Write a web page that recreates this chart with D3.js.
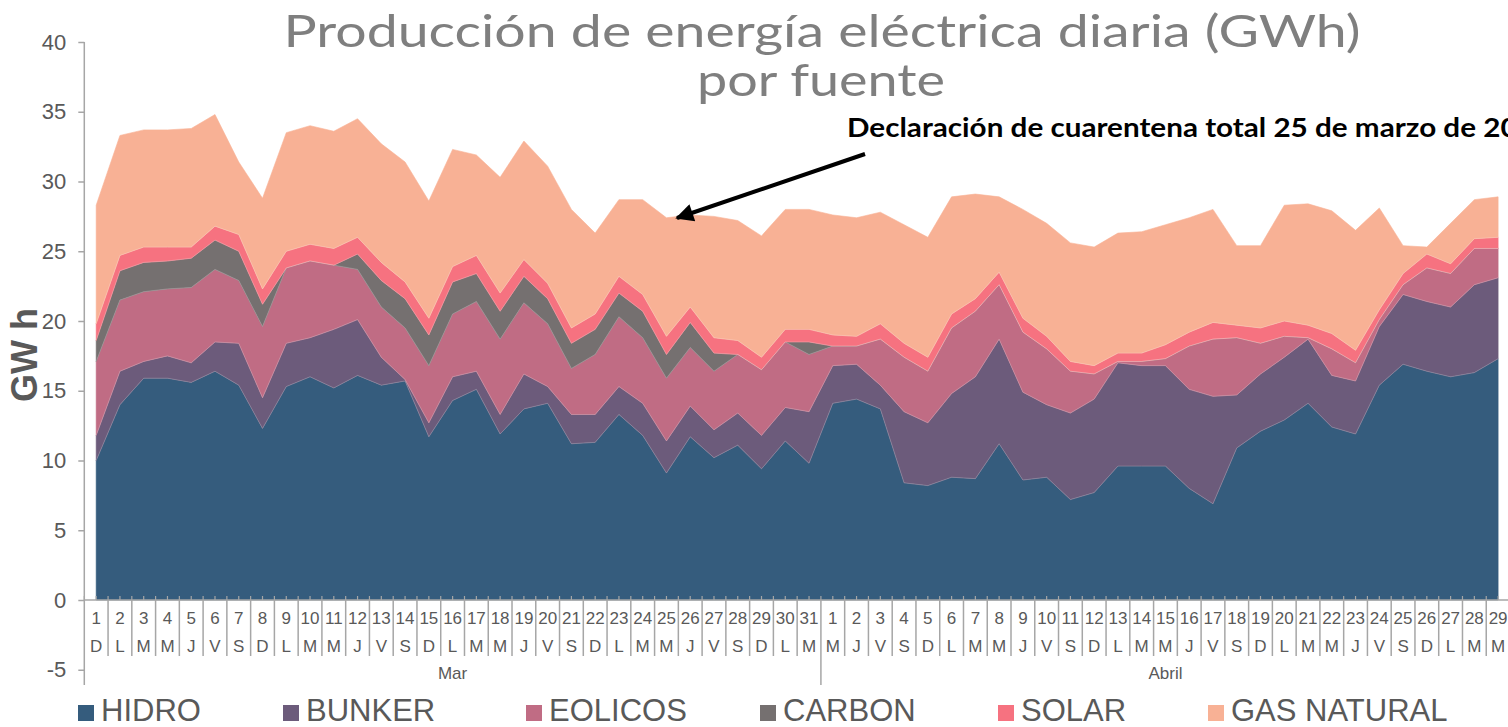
<!DOCTYPE html>
<html>
<head>
<meta charset="utf-8">
<script src="https://cdn.jsdelivr.net/npm/d3@7"></script>
<style>
  html, body { margin: 0; padding: 0; background: #fff; overflow: hidden; }
  svg { display: block; }
</style>
</head>
<body>
<script>
// Category labels
const dayNums = [
  "1","2","3","4","5","6","7","8","9","10","11","12","13","14","15","16","17","18","19","20",
  "21","22","23","24","25","26","27","28","29","30","31",
  "1","2","3","4","5","6","7","8","9","10","11","12","13","14","15","16","17","18","19","20",
  "21","22","23","24","25","26","27","28","29"
];
const weekDays = [
  "D","L","M","M","J","V","S","D","L","M","M","J","V","S","D","L","M","M","J","V",
  "S","D","L","M","M","J","V","S","D","L","M",
  "M","J","V","S","D","L","M","M","J","V","S","D","L","M","M","J","V","S","D","L",
  "M","M","J","V","S","D","L","M","M"
];
const months = [
  { name: "Mar", from: 0, to: 31 },
  { name: "Abril", from: 31, to: 60 }
];

// Series values (GWh)
const hidro = [
  10.0,14.0,15.9,15.9,15.6,16.4,15.4,12.3,15.3,16.0,15.2,16.1,15.4,15.7,11.7,14.3,15.1,11.9,13.7,14.1,
  11.2,11.3,13.3,11.8,9.1,11.7,10.2,11.1,9.4,11.4,9.8,
  14.1,14.4,13.7,8.4,8.2,8.8,8.7,11.2,8.6,8.8,7.2,7.7,9.6,9.6,9.6,8.0,6.9,10.9,12.1,12.9,
  14.1,12.4,11.9,15.4,16.9,16.4,16.0,16.3,17.3
];
const bunker = [
  1.8,2.4,1.2,1.6,1.4,2.1,3.0,2.2,3.1,2.8,4.2,4.0,2.0,0.1,1.0,1.7,1.3,1.4,2.5,1.2,
  2.1,2.0,2.0,2.3,2.3,2.2,2.0,2.3,2.4,2.4,3.7,
  2.7,2.5,1.7,5.1,4.5,6.0,7.3,7.5,6.3,5.2,6.2,6.7,7.4,7.2,7.2,7.1,7.7,3.8,4.1,4.5,
  4.6,3.7,3.8,4.2,5.0,5.0,5.0,6.3,5.8
];
const eolicos = [
  5.3,5.1,5.0,4.8,5.4,5.2,4.5,5.1,5.4,5.5,4.6,3.6,3.6,3.7,4.1,4.5,5.0,5.4,5.1,4.5,
  3.3,4.3,5.0,4.7,4.5,4.2,4.2,4.2,4.7,4.7,4.1,
  1.4,1.3,3.3,3.9,3.7,4.7,4.7,3.9,4.3,4.0,3.0,1.8,0.1,0.3,0.5,3.1,4.1,4.1,2.2,1.5,
  0.1,1.9,1.3,0.5,0.7,2.4,2.4,2.6,2.1
];
const carbon = [
  1.5,2.1,2.1,2.0,2.1,2.1,2.1,1.6,0.0,0.0,0.0,1.1,1.9,2.1,2.2,2.3,2.0,2.0,1.9,1.8,
  1.8,1.8,1.7,1.9,1.7,1.8,1.3,0.0,0.0,0.0,0.9,
  0,0,0,0,0,0,0,0,0,0,0,0,0,0,0,0,0,0,0,0,
  0,0,0,0,0,0,0,0,0
];
const solar = [
  1.2,1.1,1.1,1.0,0.8,1.0,1.2,1.1,1.2,1.2,1.2,1.2,1.3,1.2,1.2,1.1,1.3,1.3,1.2,1.1,
  1.1,1.1,1.2,1.2,1.3,1.1,1.1,1.0,0.9,0.9,0.9,
  0.8,0.7,1.1,1.0,1.0,1.0,0.9,0.9,1.0,0.9,0.7,0.6,0.6,0.6,1.0,1.0,1.2,0.9,1.1,1.1,
  0.9,1.1,0.9,0.7,0.8,1.0,0.7,0.7,0.8
];
const gasNatural = [
  8.5,8.6,8.4,8.4,8.5,8.0,5.2,6.5,8.5,8.5,8.4,8.5,8.5,8.6,8.4,8.4,7.2,8.3,8.5,8.4,
  8.5,5.8,5.5,6.8,8.5,6.6,8.7,8.6,8.7,8.6,8.6,
  8.6,8.5,8.0,8.5,8.6,8.4,7.5,5.4,7.8,8.1,8.5,8.5,8.6,8.7,8.6,8.2,8.1,5.7,5.9,8.3,
  8.7,8.8,8.6,7.3,2.0,0.5,2.9,2.8,2.9
];

const seriesNames = ["HIDRO", "BUNKER", "EOLICOS", "CARBON", "SOLAR", "GAS NATURAL"];
const seriesValues = [hidro, bunker, eolicos, carbon, solar, gasNatural];
const colors = ["#355c7d", "#6c5b7b", "#c06c84", "#757070", "#f67280", "#f8b195"];
const yTicks = [-5, 0, 5, 10, 15, 20, 25, 30, 35, 40];

const width = 1508;
const height = 727;
const plot = { left: 84.3, right: 1510, top: 42, bottom: 669.75 };
const axisGrey = "#a6a6a6";
const textGrey = "#595959";

const svg = d3.select("body")
  .append("svg")
  .attr("width", width)
  .attr("height", height);

// Build rows for the stack
const rows = dayNums.map((d, i) => {
  const r = { i: i };
  seriesNames.forEach((s, k) => { r[s] = seriesValues[k][i]; });
  return r;
});

const x = d3.scaleBand()
  .domain(d3.range(dayNums.length))
  .range([plot.left, plot.right])
  .padding(0);
const cx = (i) => x(i) + x.bandwidth() / 2;

const y = d3.scaleLinear()
  .domain([-5, 40])
  .range([plot.bottom, plot.top]);

const stacked = d3.stack().keys(seriesNames)(rows);

const area = d3.area()
  .x((d) => cx(d.data.i))
  .y0((d) => y(d[0]))
  .y1((d) => y(d[1]));

// Areas
svg.append("g")
  .selectAll("path")
  .data(stacked)
  .enter()
  .append("path")
  .attr("d", area)
  .attr("fill", (d, k) => colors[k])
  .attr("stroke", (d, k) => colors[k])
  .attr("stroke-width", 0.6);

// Faint edge line on top of each layer
svg.append("g")
  .selectAll("path")
  .data(stacked.slice(0, 5))
  .enter()
  .append("path")
  .attr("d", d3.line().x((d) => cx(d.data.i)).y((d) => y(d[1])))
  .attr("fill", "none")
  .attr("stroke", "#ffffff")
  .attr("stroke-opacity", 0.25)
  .attr("stroke-width", 0.8);

// Y axis
const yAxis = d3.axisLeft(y)
  .tickValues(yTicks)
  .tickFormat((d) => String(d))
  .tickSize(6)
  .tickSizeOuter(0)
  .tickPadding(12);

const yG = svg.append("g")
  .attr("transform", `translate(${plot.left},0)`)
  .call(yAxis);
yG.select(".domain").remove();
yG.selectAll(".tick line").attr("stroke", axisGrey).attr("stroke-width", 1.5);
yG.selectAll(".tick text")
  .attr("fill", textGrey)
  .style("font-family", "'Liberation Sans', Arial, sans-serif")
  .style("font-size", "22px");
svg.append("line")
  .attr("x1", plot.left).attr("x2", plot.left)
  .attr("y1", plot.top).attr("y2", 685)
  .attr("stroke", axisGrey).attr("stroke-width", 1.5);

// X axis (category axis crossing at 0)
const y0 = y(0);
const xG = svg.append("g");
xG.append("line")
  .attr("x1", plot.left).attr("x2", plot.right)
  .attr("y1", y0).attr("y2", y0)
  .attr("stroke", axisGrey).attr("stroke-width", 1.5);

// small ticks above the axis at centres and boundaries
const minor = [];
dayNums.forEach((d, i) => { minor.push(x(i)); minor.push(cx(i)); });
xG.selectAll("line.minor")
  .data(minor)
  .enter()
  .append("line")
  .attr("class", "minor")
  .attr("x1", (d) => d).attr("x2", (d) => d)
  .attr("y1", y0 - 4).attr("y2", y0)
  .attr("stroke", axisGrey).attr("stroke-width", 1.2);

// separators between categories
const monthStarts = months.map((m) => m.from);
xG.selectAll("line.sep")
  .data(d3.range(1, dayNums.length + 1))
  .enter()
  .append("line")
  .attr("class", "sep")
  .attr("x1", (i) => x.step() * i + plot.left)
  .attr("x2", (i) => x.step() * i + plot.left)
  .attr("y1", y0)
  .attr("y2", (i) => monthStarts.includes(i) ? 685 : 656)
  .attr("stroke", axisGrey).attr("stroke-width", 1.5);

const labelFont = "'Liberation Sans', Arial, sans-serif";
xG.selectAll("text.day")
  .data(dayNums)
  .enter()
  .append("text")
  .attr("class", "day")
  .attr("x", (d, i) => cx(i))
  .attr("y", 623.5)
  .attr("text-anchor", "middle")
  .attr("fill", textGrey)
  .style("font-family", labelFont)
  .style("font-size", "17px")
  .text((d) => d);

xG.selectAll("text.wd")
  .data(weekDays)
  .enter()
  .append("text")
  .attr("class", "wd")
  .attr("x", (d, i) => cx(i))
  .attr("y", 651.5)
  .attr("text-anchor", "middle")
  .attr("fill", textGrey)
  .style("font-family", labelFont)
  .style("font-size", "17px")
  .text((d) => d);

xG.selectAll("text.month")
  .data(months)
  .enter()
  .append("text")
  .attr("class", "month")
  .attr("x", (m) => (x(m.from) + x.step() * (m.to - m.from) / 2))
  .attr("y", 679)
  .attr("text-anchor", "middle")
  .attr("fill", textGrey)
  .style("font-family", labelFont)
  .style("font-size", "17px")
  .text((m) => m.name);

// Y axis title
svg.append("text")
  .attr("transform", "translate(37,355) rotate(-90)")
  .attr("text-anchor", "middle")
  .attr("fill", textGrey)
  .style("font-family", labelFont)
  .style("font-weight", "bold")
  .style("font-size", "36px")
  .text("GW h");

// Title
const title = svg.append("text")
  .attr("text-anchor", "middle")
  .attr("fill", "#7f7f7f")
  .style("font-family", "Lato, 'DejaVu Sans', sans-serif")
  .style("font-weight", "400")
  .style("font-size", "45px");
title.append("tspan")
  .attr("x", 822).attr("y", 47)
  .attr("textLength", 1077)
  .attr("lengthAdjust", "spacingAndGlyphs")
  .text("Producción de energía eléctrica diaria (GWh)");
title.append("tspan")
  .attr("x", 821).attr("y", 96)
  .attr("textLength", 248)
  .attr("lengthAdjust", "spacingAndGlyphs")
  .text("por fuente");

// Annotation
svg.append("defs")
  .append("marker")
  .attr("id", "arrow")
  .attr("viewBox", "0 0 10 10")
  .attr("refX", 9)
  .attr("refY", 5)
  .attr("markerWidth", 5.5)
  .attr("markerHeight", 4.5)
  .attr("orient", "auto")
  .append("path")
  .attr("d", "M0,0 L10,5 L0,10 Z")
  .attr("fill", "#000");

svg.append("line")
  .attr("x1", 865).attr("y1", 154)
  .attr("x2", 677).attr("y2", 218)
  .attr("stroke", "#000")
  .attr("stroke-width", 4)
  .attr("marker-end", "url(#arrow)");

svg.append("text")
  .attr("x", 847).attr("y", 137)
  .attr("fill", "#000")
  .attr("textLength", 705)
  .attr("lengthAdjust", "spacingAndGlyphs")
  .style("font-family", "Lato, " + labelFont)
  .style("font-weight", "bold")
  .style("font-size", "26px")
  .text("Declaración de cuarentena total 25 de marzo de 2020");

// Legend
const legendX = [78, 283, 526, 760, 998, 1208];
const lg = svg.append("g")
  .selectAll("g")
  .data(seriesNames)
  .enter()
  .append("g")
  .attr("transform", (d, k) => `translate(${legendX[k]},0)`);
lg.append("rect")
  .attr("x", 0).attr("y", 705)
  .attr("width", 16).attr("height", 16)
  .attr("fill", (d, k) => colors[k]);
lg.append("text")
  .attr("x", 23).attr("y", 721)
  .attr("fill", textGrey)
  .style("font-family", labelFont)
  .style("font-size", "31px")
  .text((d) => d);
</script>
</body>
</html>
